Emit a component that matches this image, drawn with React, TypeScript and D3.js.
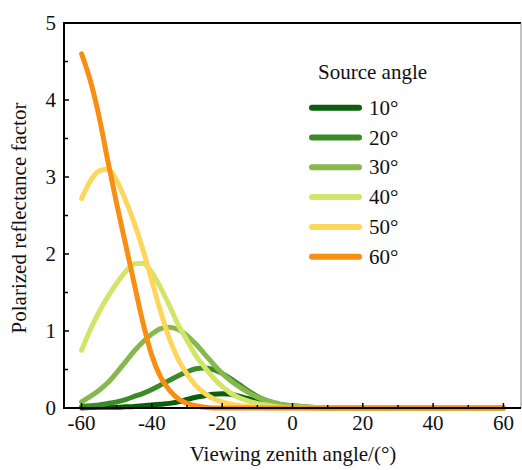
import React from "react";
import * as d3 from "d3";

const angles = [-60, -57.5, -55, -52.5, -50, -47.5, -45, -42.5, -40, -37.5, -35, -32.5, -30, -27.5, -25, -22.5, -20, -17.5, -15, -12.5, -10, -7.5, -5, -2.5, 0, 5, 10, 20, 30, 40, 50, 60];

const s10 = [0, 0.005, 0.01, 0.01, 0.01, 0.015, 0.02, 0.03, 0.04, 0.05, 0.06, 0.08, 0.11, 0.14, 0.16, 0.18, 0.185, 0.18, 0.15, 0.12, 0.09, 0.06, 0.04, 0.02, 0.01, 0.005, 0, 0, 0, 0, 0, 0];
const s20 = [0.02, 0.03, 0.04, 0.06, 0.08, 0.11, 0.15, 0.19, 0.24, 0.3, 0.36, 0.42, 0.47, 0.51, 0.52, 0.5, 0.45, 0.38, 0.3, 0.22, 0.15, 0.1, 0.06, 0.04, 0.03, 0.01, 0, 0, 0, 0, 0, 0];
const s30 = [0.08, 0.15, 0.23, 0.33, 0.46, 0.6, 0.74, 0.86, 0.96, 1.03, 1.05, 1.02, 0.94, 0.83, 0.7, 0.57, 0.45, 0.35, 0.27, 0.2, 0.14, 0.1, 0.07, 0.04, 0.03, 0.01, 0, 0, 0, 0, 0, 0];
const s40 = [0.75, 1.02, 1.25, 1.45, 1.62, 1.77, 1.87, 1.88, 1.76, 1.56, 1.33, 1.08, 0.88, 0.68, 0.53, 0.39, 0.28, 0.19, 0.13, 0.09, 0.06, 0.04, 0.02, 0.01, 0.01, 0, 0, 0, 0, 0, 0, 0];
const s50 = [2.72, 2.95, 3.08, 3.1, 2.95, 2.7, 2.4, 2.05, 1.65, 1.25, 0.9, 0.63, 0.44, 0.29, 0.19, 0.12, 0.08, 0.05, 0.03, 0.02, 0.01, 0, 0, 0, 0, 0, 0, 0, 0, 0, 0, 0];
const s60 = [4.6, 4.25, 3.78, 3.2, 2.65, 2.13, 1.61, 1.1, 0.68, 0.4, 0.23, 0.12, 0.06, 0.03, 0.01, 0, 0, 0, 0, 0, 0, 0, 0, 0, 0, 0, 0, 0, 0, 0, 0, 0];

const seriesNames = ["10°", "20°", "30°", "40°", "50°", "60°"];
const seriesValues = [s10, s20, s30, s40, s50, s60];
const seriesColors = ["#0b5e0b", "#3d8b26", "#86b84e", "#d3e46a", "#fed65c", "#f98f12"];

const xTicks = [-60, -40, -20, 0, 20, 40, 60];
const xMinor = [-50, -30, -10, 10, 30, 50];
const yTicks = [0, 1, 2, 3, 4, 5];
const yMinor = [0.5, 1.5, 2.5, 3.5, 4.5];

const FONT = "Liberation Serif, Tinos, Times New Roman, DejaVu Serif, serif";

export default function App() {
  const W = 522, H = 470;
  const L = 64, R = 521, T = 23, B = 408;
  const x = d3.scaleLinear().domain([-65, 65]).range([L, R]);
  const y = d3.scaleLinear().domain([0, 5]).range([B, T]);
  const line = d3
    .line<number>()
    .x((_, i) => x(angles[i]))
    .y((d) => y(d))
    .curve(d3.curveMonotoneX);

  return (
    <svg width={W} height={H} style={{ position: "absolute", left: 0, top: 0, background: "#fff", fontFamily: FONT }}>
      {seriesValues.map((vals, i) => (
        <path key={i} d={line(vals) || ""} fill="none" stroke={seriesColors[i]} strokeWidth={5} strokeLinecap="round" strokeLinejoin="round" />
      ))}
      {/* frame */}
      <line x1={L} x2={R} y1={T} y2={T} stroke="#000" strokeWidth={2} />
      <line x1={R} x2={R} y1={T} y2={B} stroke="#888" strokeWidth={1} />
      <line x1={L} x2={L} y1={T - 1} y2={B + 1} stroke="#000" strokeWidth={2} />
      <line x1={L - 1} x2={R} y1={B} y2={B} stroke="#000" strokeWidth={2} />
      {/* x ticks */}
      {xTicks.map((t) => (
        <g key={"xt" + t}>
          <line x1={x(t)} x2={x(t)} y1={B} y2={B - 5} stroke="#000" strokeWidth={1.5} />
          <text x={x(t)} y={430} fontSize={21} textAnchor="middle" fill="#111" style={{ fontFamily: FONT }}>{t}</text>
        </g>
      ))}
      {xMinor.map((t) => (
        <line key={"xm" + t} x1={x(t)} x2={x(t)} y1={B} y2={B - 3} stroke="#000" strokeWidth={1.5} />
      ))}
      {yTicks.map((t) => (
        <g key={"yt" + t}>
          <line x1={L} x2={L + 5} y1={y(t)} y2={y(t)} stroke="#000" strokeWidth={1.5} />
          <text x={56} y={y(t) + 7} fontSize={21} textAnchor="end" fill="#111" style={{ fontFamily: FONT }}>{t}</text>
        </g>
      ))}
      {yMinor.map((t) => (
        <line key={"ym" + t} x1={L} x2={L + 4} y1={y(t)} y2={y(t)} stroke="#000" strokeWidth={1.5} />
      ))}
      <text x={293} y={461} fontSize={21} textAnchor="middle" fill="#111" style={{ fontFamily: FONT }}>Viewing zenith angle/(°)</text>
      <text transform="translate(26,218) rotate(-90)" fontSize={21} textAnchor="middle" fill="#111" style={{ fontFamily: FONT }}>Polarized reflectance factor</text>
      {/* legend */}
      <text x={318} y={79} fontSize={21} fill="#111" style={{ fontFamily: FONT }}>Source angle</text>
      {seriesNames.map((n, i) => {
        const ly = 107.7 + i * 29.8;
        return (
          <g key={n}>
            <line x1={312} x2={359} y1={ly} y2={ly} stroke={seriesColors[i]} strokeWidth={6} strokeLinecap="round" />
            <text x={369} y={ly + 7} fontSize={21} fill="#111" style={{ fontFamily: FONT }}>{n}</text>
          </g>
        );
      })}
    </svg>
  );
}
